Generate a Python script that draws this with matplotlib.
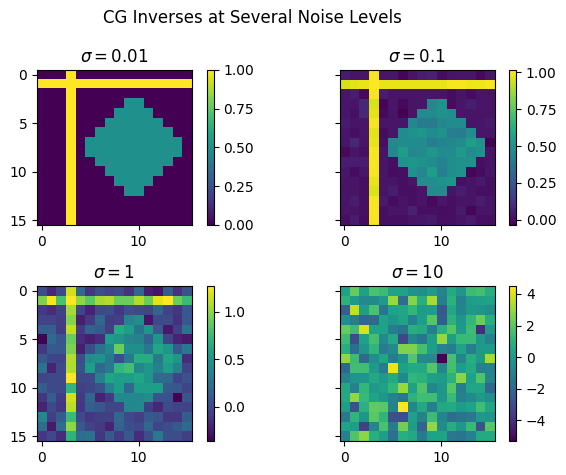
import matplotlib
matplotlib.use('Agg')
import matplotlib.pyplot as plt

titles = [r'$\sigma = 0.01$', r'$\sigma = 0.1$', r'$\sigma = 1$', r'$\sigma = 10$']

# recovered images, one list per row
sigma_001 = [
    [0, 0, 0, 1, 0, 0, 0, 0, 0, 0, 0, 0, 0, 0, 0, 0],
    [1, 1, 1, 1, 1, 1, 1, 1, 1, 1, 1, 1, 1, 1, 1, 1],
    [0, 0, 0, 1, 0, 0, 0, 0, 0, 0, 0, 0, 0, 0, 0, 0],
    [0, 0, 0, 1, 0, 0, 0, 0, 0, 0.5, 0.5, 0, 0, 0, 0, 0],
    [0, 0, 0, 1, 0, 0, 0, 0, 0.5, 0.5, 0.5, 0.5, 0, 0, 0, 0],
    [0, 0, 0, 1, 0, 0, 0, 0.5, 0.5, 0.5, 0.5, 0.5, 0.5, 0, 0, 0],
    [0, 0, 0, 1, 0, 0, 0.5, 0.5, 0.5, 0.5, 0.5, 0.5, 0.5, 0.5, 0, 0],
    [0, 0, 0, 1, 0, 0.5, 0.5, 0.5, 0.5, 0.5, 0.5, 0.5, 0.5, 0.5, 0.5, 0],
    [0, 0, 0, 1, 0, 0.5, 0.5, 0.5, 0.5, 0.5, 0.5, 0.5, 0.5, 0.5, 0.5, 0],
    [0, 0, 0, 1, 0, 0, 0.5, 0.5, 0.5, 0.5, 0.5, 0.5, 0.5, 0.5, 0, 0],
    [0, 0, 0, 1, 0, 0, 0, 0.5, 0.5, 0.5, 0.5, 0.5, 0.5, 0, 0, 0],
    [0, 0, 0, 1, 0, 0, 0, 0, 0.5, 0.5, 0.5, 0.5, 0, 0, 0, 0],
    [0, 0, 0, 1, 0, 0, 0, 0, 0, 0.5, 0.5, 0, 0, 0, 0, 0],
    [0, 0, 0, 1, 0, 0, 0, 0, 0, 0, 0, 0, 0, 0, 0, 0],
    [0, 0, 0, 1, 0, 0, 0, 0, 0, 0, 0, 0, 0, 0, 0, 0],
    [0, 0, 0, 1, 0, 0, 0, 0, 0, 0, 0, 0, 0, 0, 0, 0],
]

sigma_01 = [
    [0.04, 0.02, 0.03, 1.0, 0.03, 0.03, -0.02, 0.02, 0.05, 0.06, 0.0, 0.02, 0.03, 0.03, -0.01, 0.03],
    [0.95, 0.97, 0.98, 1.015, 0.98, 0.98, 0.98, 0.98, 0.98, 0.98, 0.98, 1.0, 1.0, 0.99, 0.99, 1.0],
    [0.03, 0.05, -0.01, 1.0, 0.05, 0.02, 0.02, 0.02, 0.02, 0.02, 0.02, 0.0, 0.02, 0.0, 0.02, 0.02],
    [0.03, 0.02, 0.08, 0.95, -0.02, 0.03, -0.01, 0.02, 0.03, 0.45, 0.5, 0.0, 0.03, 0.05, 0.03, 0.02],
    [0.03, 0.01, 0.08, 0.97, -0.01, 0.02, -0.03, 0.02, 0.47, 0.47, 0.5, 0.48, 0.03, 0.02, 0.02, 0.02],
    [0.04, 0.02, 0.03, 1.0, 0.03, 0.03, 0.03, 0.45, 0.4, 0.4, 0.45, 0.47, 0.47, 0.02, 0.03, 0.04],
    [0.03, 0.01, 0.03, 0.97, 0.0, 0.03, 0.47, 0.5, 0.52, 0.47, 0.5, 0.42, 0.41, 0.48, 0.03, 0.03],
    [0.03, 0.08, 0.02, 0.98, 0.01, 0.46, 0.47, 0.47, 0.47, 0.42, 0.44, 0.45, 0.47, 0.55, 0.5, -0.035],
    [-0.01, 0.03, 0.01, 1.0, 0.02, 0.45, 0.55, 0.45, 0.47, 0.52, 0.47, 0.47, 0.53, 0.47, 0.5, 0.02],
    [0.05, 0.05, 0.05, 1.0, 0.03, 0.01, 0.5, 0.52, 0.5, 0.47, 0.43, 0.48, 0.5, 0.5, 0.01, 0.02],
    [0.03, 0.0, 0.03, 1.0, 0.03, 0.0, 0.01, 0.5, 0.45, 0.55, 0.42, 0.48, 0.5, -0.02, 0.0, 0.03],
    [0.02, 0.03, 0.01, 0.98, 0.02, 0.02, 0.01, 0.02, 0.48, 0.48, 0.5, 0.52, 0.01, 0.02, 0.04, 0.01],
    [0.02, 0.02, 0.01, 0.96, 0.02, 0.05, 0.01, 0.01, 0.02, 0.47, 0.47, 0.02, 0.05, 0.02, 0.01, 0.01],
    [0.03, 0.05, 0.01, 1.0, 0.04, 0.0, 0.02, 0.01, 0.02, -0.01, 0.03, 0.01, 0.02, 0.02, 0.05, 0.02],
    [0.03, 0.02, 0.01, 1.0, 0.01, 0.02, 0.02, 0.06, 0.01, 0.01, 0.0, 0.01, 0.04, -0.02, 0.02, 0.02],
    [0.01, 0.05, 0.0, 1.0, 0.01, 0.01, 0.01, 0.02, 0.03, 0.04, 0.01, 0.01, 0.02, 0.04, 0.01, 0.01],
]

sigma_1 = [
    [0.03, -0.18, 0.0, 1.15, 0.2, -0.1, 0.03, -0.03, 0.0, -0.12, 0.18, -0.22, -0.27, 0.12, -0.13, 0.05],
    [0.95, 1.25, 0.8, 1.27, 1.0, 0.85, 1.05, 1.08, 0.9, 0.9, 1.08, 0.9, 1.2, 1.27, 0.9, 0.75],
    [-0.08, -0.15, -0.05, 1.05, -0.02, -0.2, 0.0, 0.03, -0.1, 0.04, 0.0, -0.02, 0.17, -0.03, -0.1, 0.08],
    [-0.02, -0.03, -0.07, 0.97, -0.22, -0.08, 0.18, -0.07, -0.05, 0.38, 0.45, -0.27, 0.0, 0.02, -0.12, 0.08],
    [0.13, 0.13, -0.07, 1.12, -0.08, 0.15, 0.1, -0.05, 0.65, 0.55, 0.27, 0.5, 0.1, -0.25, -0.05, 0.25],
    [-0.36, 0.2, 0.07, 0.9, -0.15, -0.22, -0.15, 0.55, 0.5, 0.38, 0.35, 0.15, 0.5, -0.02, -0.2, -0.25],
    [-0.1, 0.1, 0.08, 0.95, -0.22, 0.03, 0.25, 0.4, 0.9, 0.45, 0.45, 0.28, 0.6, 0.5, 0.1, 0.3],
    [0.08, -0.02, -0.03, 1.08, 0.03, 0.45, 0.48, 0.3, 0.03, 0.3, 0.65, 0.65, 0.3, 0.6, 0.5, -0.15],
    [0.25, -0.2, 0.0, 1.08, 0.05, 0.55, 0.2, 0.3, 0.72, 0.78, 0.4, 0.5, 0.35, 0.55, 0.35, -0.03],
    [-0.02, 0.0, 0.0, 1.27, 0.0, 0.0, 0.35, 0.6, 0.55, 0.55, 0.6, 0.5, 0.2, 0.2, -0.03, 0.05],
    [0.12, 0.0, 0.0, 0.72, -0.05, -0.02, 0.05, 0.35, 0.55, 0.2, 0.55, 0.55, 0.55, 0.1, 0.08, -0.03],
    [-0.1, 0.12, -0.07, 1.15, -0.08, 0.18, -0.2, -0.08, 0.4, 0.4, 0.4, 0.45, 0.05, 0.05, -0.35, 0.07],
    [-0.2, 0.0, -0.1, 1.1, -0.1, 0.13, 0.08, -0.02, -0.02, 0.4, 0.42, -0.05, -0.17, 0.02, -0.03, -0.03],
    [0.4, -0.05, 0.12, 0.75, 0.0, -0.1, -0.05, -0.05, 0.18, 0.0, -0.05, 0.1, 0.07, -0.1, -0.1, 0.12],
    [0.22, -0.25, 0.22, 1.0, 0.1, -0.03, -0.08, -0.2, 0.15, 0.03, 0.0, 0.18, -0.03, 0.03, 0.1, 0.2],
    [-0.1, 0.0, -0.15, 0.7, 0.22, 0.25, -0.1, 0.1, -0.07, 0.1, -0.15, 0.03, 0.3, 0.03, 0.03, -0.05],
]

sigma_10 = [
    [0.3, 2.2, 0.3, 1.7, 1.4, 0.4, 0.4, -0.3, -0.5, 0.1, -0.9, 0.7, -0.2, 1.4, 1.6, 0.8],
    [1.0, 0.0, -0.6, -0.6, 0.0, 3.0, -1.8, 2.7, 0.9, 3.2, -1.1, 1.0, -1.0, 0.2, 0.3, 0.4],
    [-2.3, 3.6, 0.2, 1.7, -1.5, 0.4, 0.5, 1.2, 0.1, 0.1, -2.6, 0.6, -0.8, 0.0, -0.2, -0.4],
    [-0.4, -1.2, -2.0, -1.9, 0.4, -0.1, 0.4, -1.0, 0.2, 1.9, -2.4, 1.0, -0.2, 1.2, 2.3, 0.9],
    [2.2, 1.4, 3.9, 0.4, 0.4, -1.2, -1.5, 0.9, 0.7, -1.1, 0.9, 1.9, 0.0, 1.4, -4.0, 0.0],
    [1.4, -3.0, 0.3, 1.6, -0.6, 0.6, -3.2, -0.8, -1.5, 0.2, 3.0, 0.2, 1.3, 1.3, -0.1, -1.0],
    [0.9, -1.8, -0.2, 1.1, -1.3, -0.7, 2.6, 2.6, 1.6, 0.2, -0.9, -1.2, 0.4, -1.2, 0.0, 0.0],
    [2.9, 1.4, -1.9, -0.5, 0.5, -1.2, -0.3, 1.9, -0.7, -0.7, -5.3, 1.6, -0.8, 0.8, 0.0, 3.2],
    [-2.0, 1.5, 1.5, 0.0, -1.3, 4.2, 0.3, 0.7, 0.7, 1.9, -0.8, 1.6, 0.2, 0.7, -1.0, -1.0],
    [-1.0, -0.2, -0.2, 0.6, 0.0, 0.7, -0.6, 1.2, 1.0, 0.3, 0.1, 1.0, 2.8, 0.3, 1.8, -0.8],
    [0.6, -1.0, 1.2, 0.0, 0.3, 1.2, 3.0, 0.3, 1.8, -0.8, -0.1, 1.9, -1.2, 0.5, 0.5, -2.0],
    [0.6, 2.9, 1.3, 0.4, -0.1, -0.9, -1.4, 1.0, 1.5, 1.5, -0.1, 1.3, -1.0, -0.6, 0.0, -0.4],
    [0.2, -2.8, 1.0, 2.1, 2.0, -1.0, 4.5, -0.8, 0.6, -1.1, 0.6, 0.7, 0.1, 0.4, 1.5, 0.5],
    [-1.4, 1.1, -0.1, 2.0, 1.1, -2.9, -2.9, 0.3, -1.0, 1.4, -0.8, -1.8, -1.5, -1.4, 0.0, -0.2],
    [0.4, 0.2, -3.4, -0.8, 1.7, -1.2, 2.4, 0.2, -2.2, 2.9, -0.6, 0.8, -0.1, 1.3, -2.8, 1.9],
    [-1.0, 1.8, 2.8, 0.9, 0.2, -1.7, 0.9, 0.6, -1.3, 0.4, 0.4, -1.4, -1.5, -1.0, 0.7, 0.7],
]

images = [sigma_001, sigma_01, sigma_1, sigma_10]
cbar_ticks = [[0, 0.25, 0.5, 0.75, 1], [0, 0.25, 0.5, 0.75, 1], [0, 0.5, 1], [-4, -2, 0, 2, 4]]

W, H = 566, 475
fig, axs = plt.subplots(2, 2, sharey=True, figsize=(W / 100, H / 100), dpi=100)

# pixel boxes of the image axes, left/top
boxes = [(37, 70), (339.5, 70), (37, 286), (339.5, 286)]
size = 155

for ax, img, title, ticks, (left, top) in zip(axs.flat, images, titles, cbar_ticks, boxes):
    im = ax.imshow(img)
    ax.set_title(title)
    ax.set_xticks([0, 10])
    ax.set_yticks([0, 5, 10, 15])
    ax.set_position([left / W, 1 - (top + size) / H, size / W, size / H])
    cax = fig.add_axes([(left + size + 14.5) / W, 1 - (top + size) / H, 7.2 / W, size / H])
    cbar = fig.colorbar(im, cax=cax)
    cbar.set_ticks(ticks)

fig.suptitle('CG Inverses at Several Noise Levels', x=252 / W, y=1 - 18 / H, va='center')
fig.savefig('out.png', dpi=100)
